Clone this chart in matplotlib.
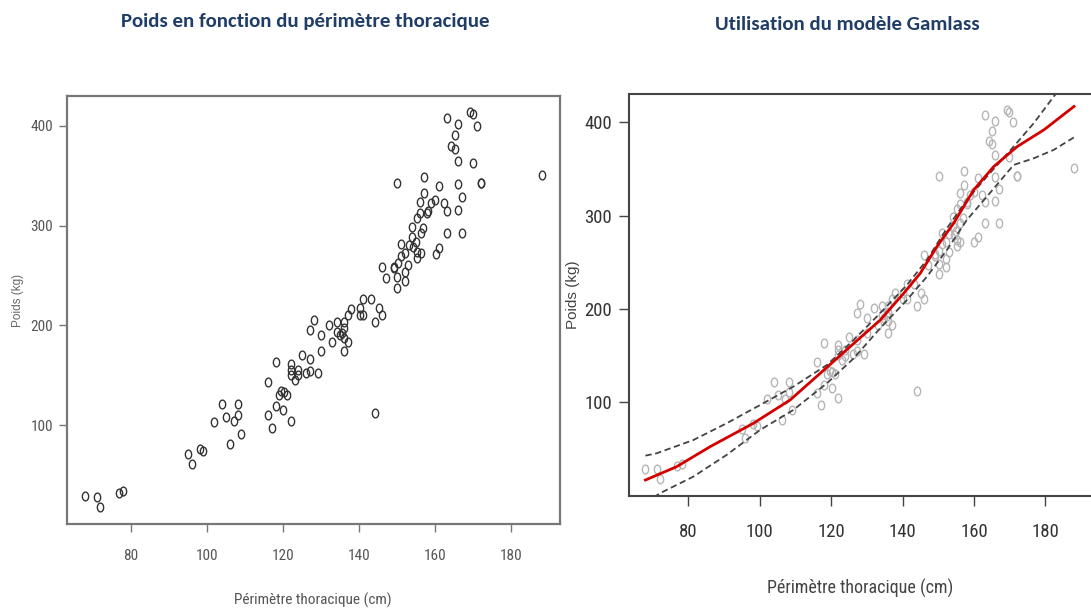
import matplotlib
matplotlib.use("Agg")
import matplotlib.pyplot as plt
import numpy as np
from matplotlib.path import Path
import logging
logging.getLogger('matplotlib.font_manager').setLevel(logging.ERROR)

# ---------------- data ----------------
perimetre = [68.0, 71.1, 72.0, 76.9, 78.1, 95.0, 96.0, 98.2, 99.1, 102.0,
             104.1, 105.0, 106.1, 107.1, 108.1, 108.1, 109.0, 116.0, 116.0, 117.1,
             118.1, 118.1, 118.9, 119.6, 120.2, 120.1, 121.2, 122.0, 122.0, 122.0,
             122.0, 123.1, 124.0, 124.0, 125.1, 126.2, 127.1, 127.1, 127.1, 128.1,
             129.1, 130.1, 130.1, 132.1, 133.0, 134.1, 134.1, 134.9, 135.6, 136.0,
             136.0, 136.0, 136.0, 137.0, 137.0, 138.0, 140.2, 140.2, 141.1, 141.1,
             143.1, 144.1, 144.1, 145.2, 146.1, 146.1, 147.2, 149.1, 149.1, 150.1,
             150.1, 150.1, 150.3, 151.0, 151.1, 152.2, 152.2, 152.2, 152.9, 153.1,
             154.0, 154.0, 154.3, 154.9, 155.1, 155.2, 155.3, 156.2, 156.2, 156.1,
             156.1, 156.8, 157.1, 157.1, 157.9, 158.1, 159.0, 159.9, 160.1, 161.0,
             161.0, 162.2, 163.1, 163.1, 163.1, 164.1, 165.1, 165.1, 166.0, 166.0,
             166.0, 166.0, 167.1, 167.1, 169.1, 169.9, 169.9, 171.0, 172.1, 172.1,
             188.0]
poids = [29.0, 28.3, 18.0, 32.3, 34.0, 71.3, 61.3, 76.3, 74.7, 103.3,
         121.7, 108.0, 81.3, 104.0, 121.7, 110.7, 91.3, 110.0, 143.3, 97.3,
         163.3, 119.0, 130.7, 134.0, 133.0, 115.7, 130.7, 104.7, 161.3, 155.7,
         150.7, 145.0, 155.7, 150.0, 170.0, 152.3, 166.3, 154.7, 195.7, 205.7,
         152.3, 190.7, 174.0, 200.7, 183.0, 203.3, 193.3, 190.7, 192.3, 203.3,
         197.3, 187.3, 174.0, 183.0, 210.7, 216.7, 217.3, 210.7, 210.7, 226.3,
         226.3, 112.3, 203.3, 217.3, 210.7, 258.3, 247.3, 257.3, 259.0, 342.3,
         248.3, 237.3, 262.3, 281.7, 270.0, 272.3, 254.0, 245.0, 260.7, 280.7,
         289.0, 299.0, 279.0, 283.3, 274.0, 267.3, 307.3, 272.3, 292.3, 312.3,
         324.0, 298.0, 348.3, 333.0, 312.3, 315.0, 322.3, 325.7, 271.3, 340.0,
         277.3, 322.3, 292.3, 314.7, 407.3, 380.0, 376.7, 390.7, 401.3, 364.7,
         341.3, 315.7, 329.0, 292.3, 413.3, 411.3, 362.3, 400.0, 342.3, 342.3,
         350.7]

# GAMLSS fitted median curve
med_x = [68.0, 76.7, 86.1, 98.2, 108.5, 116.9, 125.3, 133.7, 140.3, 144.9,
         149.6, 154.3, 159.9, 165.5, 172.1, 179.6, 188.0]
med_y = [16.8, 31.0, 52.5, 77.5, 102.5, 131.0, 159.6, 188.0, 216.8, 238.0,
         266.8, 291.8, 327.5, 352.5, 374.0, 392.0, 417.0]
# upper band (dashed)
up_x = [68.0, 71.1, 81.4, 90.7, 100.1, 109.4, 118.8, 126.3, 133.7, 141.2,
        146.8, 152.4, 158.0, 163.6, 171.1, 176.7, 182.3, 185.0]
up_y = [42.9, 45.4, 59.6, 77.5, 97.1, 116.8, 140.0, 166.8, 195.4, 225.7,
        252.5, 286.4, 316.8, 341.8, 374.0, 398.9, 427.5, 440.0]
# lower band (dashed)
lo_x = [68.0, 72.0, 81.4, 90.7, 100.1, 109.4, 118.8, 126.3, 133.7, 141.2,
        146.8, 152.4, 158.0, 163.6, 171.1, 176.7, 182.3, 188.0]
lo_y = [-8.0, 2.5, 20.4, 43.6, 70.4, 91.8, 120.4, 147.1, 179.3, 209.6,
        234.6, 263.2, 295.4, 320.4, 354.3, 361.4, 370.4, 383.9]

xticks = [80, 100, 120, 140, 160, 180]
yticks = [100, 200, 300, 400]
title_left = "Poids en fonction du périmètre thoracique"
title_right = "Utilisation du modèle Gamlass"
xlabel = "Périmètre thoracique (cm)"
ylabel = "Poids (kg)"

# ---------------- style ----------------
narrow = ['Roboto Condensed', 'Archivo Narrow', 'PT Sans Narrow',
          'IBM Plex Sans Condensed', 'DejaVu Sans']
regular = ['Arimo', 'Liberation Sans', 'DejaVu Sans']
title_font = ['Carlito', 'Lato', 'DejaVu Sans']
navy = '#1f3d66'

t = np.linspace(0, 2 * np.pi, 40)
ell = Path(np.column_stack([0.72 * np.cos(t), np.sin(t)]))

fig = plt.figure(figsize=(10.91, 6.10), dpi=100)

# ---------------- left panel ----------------
axL = fig.add_axes([66.7 / 1091, 1 - 524 / 610, (560 - 66.7) / 1091, (524 - 96) / 610])
axL.plot(perimetre, poids, linestyle='none', marker=ell, markersize=6.3,
         markerfacecolor='none', markeredgecolor='#333333', markeredgewidth=1.0)
axL.set_xlim(63.2, 192.8)
axL.set_ylim(1.2, 429.8)
axL.set_xticks(xticks)
axL.set_yticks(yticks)
for sp in axL.spines.values():
    sp.set_color('#777777')
    sp.set_linewidth(1.6)
axL.tick_params(axis='both', length=6, width=1.0, color='#777777',
                labelcolor='#555555', labelsize=11)
axL.tick_params(axis='x', pad=12)
axL.tick_params(axis='y', pad=4)
for lab in axL.get_xticklabels() + axL.get_yticklabels():
    lab.set_family(narrow)
fig.text(313 / 1091, 1 - 600 / 610, xlabel, ha='center', va='center',
         family=narrow, fontsize=11, color='#555555')
fig.text(18 / 1091, 1 - 300 / 610, ylabel, ha='center', va='center',
         rotation=90, family=regular, fontsize=8.5, color='#666666')
fig.text(305 / 1091, 1 - 21 / 610, title_left, ha='center', va='center',
         family=title_font, fontweight='bold', fontsize=15, color=navy)

# ---------------- right panel ----------------
axR = fig.add_axes([629 / 1091, 1 - 495.7 / 610, (1094 - 629) / 1091, (495.7 - 94.3) / 610])
axR.plot(perimetre, poids, linestyle='none', marker=ell, markersize=6.3,
         markerfacecolor='none', markeredgecolor='#b5b5b5', markeredgewidth=1.0)
axR.plot(up_x, up_y, color='#444444', linestyle=(0, (3.5, 2.0)), linewidth=1.3)
axR.plot(lo_x, lo_y, color='#444444', linestyle=(0, (3.5, 2.0)), linewidth=1.3)
axR.plot(med_x, med_y, color='#d40000', linewidth=2.0)
axR.set_xlim(63.4, 193.6)
axR.set_ylim(0, 430)
axR.set_xticks(xticks)
axR.set_yticks(yticks)
for sp in axR.spines.values():
    sp.set_color('#444444')
    sp.set_linewidth(1.5)
axR.tick_params(axis='both', length=7, width=1.0, color='#444444',
                labelcolor='#333333', labelsize=13.5)
axR.tick_params(axis='x', pad=13)
axR.tick_params(axis='y', pad=5)
for lab in axR.get_xticklabels() + axR.get_yticklabels():
    lab.set_family(narrow)
fig.text(860 / 1091, 1 - 588 / 610, xlabel, ha='center', va='center',
         family=narrow, fontsize=13, color='#444444')
fig.text(573 / 1091, 1 - 295 / 610, ylabel, ha='center', va='center',
         rotation=90, family=regular, fontsize=11, color='#444444')
fig.text(847 / 1091, 1 - 25 / 610, title_right, ha='center', va='center',
         family=title_font, fontweight='bold', fontsize=15, color=navy)

fig.savefig('out.png', dpi=100)
